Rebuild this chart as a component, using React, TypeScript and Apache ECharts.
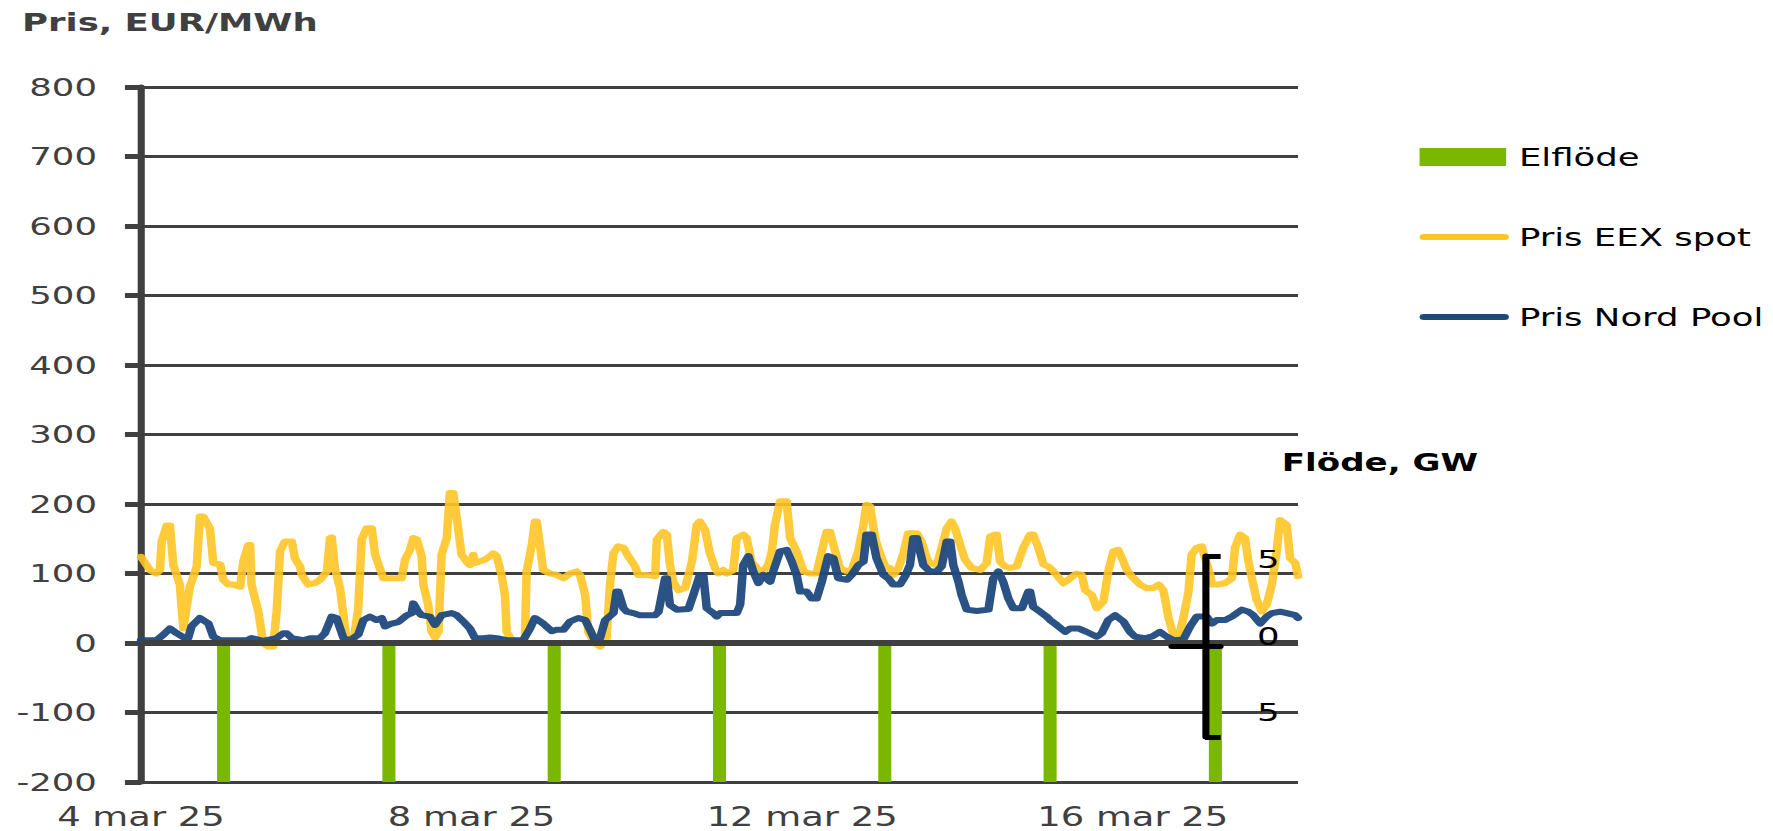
import React, { useEffect, useRef } from 'react';
import * as echarts from 'echarts';

// Chart is drawn at a narrower width and stretched horizontally, as in the reference.
const W = 1249;
const H = 831;
const SX = 1773 / W;

// x axis: hours since 4 mar 25 00:00
const xTickHours = [0, 96, 192, 288];
const xTickLabels = ['4 mar 25', '8 mar 25', '12 mar 25', '16 mar 25'];

// Elflöde, GW (bars run past the bottom of the plot)
const flowHours = [24, 72, 120, 168, 216, 264, 312];
const flowValues = [-8, -8, -8, -8, -8, -8, -8];

// Pris EEX spot, EUR/MWh
const eexHours = [
  0, 2.6, 4.5, 5.5, 6, 7.5, 8.4, 9.4, 11.3, 12.3, 14.2, 16.2, 17.1, 18.1, 20, 21, 23, 23.9, 25.4, 26.8,
  28.8, 29.7, 31.2, 31.7, 32.1, 34.1, 35.5, 37, 38.4, 39.4, 40.4, 41.8, 43.8, 44.7, 46.2, 46.7, 48.6, 50.5,
  52, 54, 54.9, 55.4, 56.3, 57.8, 59.7, 61.7, 63.1, 64.1, 65.5, 67, 68, 70.4, 72.3, 75.7, 76.7, 78.1, 79.1,
  80.1, 81.5, 82, 83.4, 84.4, 85.4, 86.4, 87.3, 88.8, 89.7, 90.7, 91.7, 93.1, 94.6, 95.6, 96.5, 97, 99.9,
  101.4, 102.3, 103.3, 104.7, 105.7, 106.2, 107.6, 110, 111.5, 112, 113.5, 114.4, 114.9, 115.9, 116.8,
  118.8, 120.7, 122.7, 124.6, 126.5, 127.5, 129, 129.9, 131.4,
  133.3, 135.2, 136.2, 137.2, 138.6, 140.1, 141.5, 143.5, 144.4, 146.9, 149.3, 149.8, 151.7, 152.7, 153.6,
  154.6, 156.1, 158, 160, 161.4, 162.3, 163.8, 165.2, 166.7, 167.7, 169.1, 170.1, 172, 173, 174.9, 175.9,
  177.3, 179.3, 180.7, 182.2, 183.2, 184.1, 185.6, 187.5, 188.5, 190.4, 192.4, 194.3, 196.2, 197.7, 199.1,
  200.1, 201.1, 203, 205, 206.4, 208.3, 209.8, 210.7, 211.7, 213.2, 214.6, 216.1, 217.5, 218.5, 220, 221.4,
  222.8, 225.3, 226.7, 228.2, 229.1, 231.1, 232.5, 234, 235.4, 236.4, 237.9, 239.3, 241.2, 243.7, 245.6,
  246.6, 248, 248.5, 249.5, 250.9, 252.4, 254.3, 256.2, 258.2, 259.1, 260.6, 262.1, 263.5,
  265, 267.9, 269.8, 271.7, 273.2, 274.2, 276.1, 277.6, 279.5, 280.9, 282.4, 283.8, 285.3, 286.3, 287.7,
  290.1, 292.1, 294, 295.5, 296.9, 298.4, 299.8, 301.3, 302.7, 304.2, 305.1, 306.6, 308, 309, 310.5, 311,
  312.4, 314.8, 316.8, 317.7, 319.2, 320.6, 321.6, 322.6, 324, 325.5, 326.9, 328.4, 329.8, 330.8, 332.7,
  333.7, 335.2, 336,
];
const eexValues = [
  124, 105, 100, 105, 146, 169, 169, 112, 84, 21, 81, 110, 182, 182, 165, 115, 113, 91, 84, 84,
  81, 117, 141, 141, 84, 45, 0, -5, -5, 45, 132, 146, 146, 122, 110, 98, 84, 86,
  91, 103, 151, 152, 108, 79, 4, 2, 50, 149, 165, 165, 127, 93, 93, 93, 120, 134, 151,
  149, 125, 84, 55, 16, 8, 16, 127, 151, 216, 216, 180, 127, 117, 112, 127, 115, 120,
  125, 129, 125, 98, 69, 16, 4, 1, 7, 103, 141, 175, 175, 139, 105,
  100, 98, 93, 100, 103, 98, 69, 16, 2,
  -5, 7, 84, 129, 139, 137, 125, 110, 98, 98, 96, 149, 160, 156, 113,
  88, 76, 79, 117, 170, 175, 163, 129, 108, 100, 105, 100, 105, 151, 156, 151,
  117, 105, 103, 113, 132, 170, 204, 204, 151, 132, 103, 100, 100, 132, 160,
  160, 141, 108, 103, 105, 132, 170, 199, 197, 151, 129, 110, 108, 98, 108, 129,
  158, 158, 146, 122, 115, 112, 137, 165, 175, 165, 141, 120, 108, 105, 115,
  153, 156, 156, 117, 110, 108, 110, 137, 156, 156, 137, 113, 110,
  103, 86, 93, 100, 98, 76, 69, 50, 60, 103, 132, 134, 117, 105, 96,
  84, 79, 79, 84, 76, 36, 12, 7, 36, 74, 127, 137, 139, 122, 98, 84,
  84, 86, 93, 137, 156, 151, 117, 93, 62, 45, 55, 84, 132, 177, 170,
  122, 115, 96,
];

// Pris Nord Pool, EUR/MWh
const npHours = [
  0, 4.5, 6.5, 8.4, 10.4, 12.8, 13.7, 14.7, 17.1, 19.6, 21, 23, 30.7, 32.1, 35.5, 39.4, 41.3, 42.3, 43.8,
  47.1, 49.1, 52, 53.4, 55.4, 56.8, 58.8, 60.7, 63.1, 64.6, 66.5, 68.4, 69.9, 70.9, 72.8, 74.7, 77.2, 78.6,
  79.1, 80.5, 81.5, 83.9, 85.4, 87.3, 90.2, 91.7, 93.6, 95.5, 97, 99.4, 101.4, 103.3, 106.2, 111, 113,
  114.4, 116.8, 119.3, 120.7, 122.7, 124.6, 127, 129, 130.4, 131.8,
  133.3, 134.8, 137.2, 138.1, 138.6, 140.1, 141.1, 143, 144.9, 149.3, 150.3, 152.2, 152.7, 153.6, 155.6,
  159, 160.4, 162.3, 163.3, 164.3, 166.2, 167.2, 168.2, 173, 174, 174.9, 176.4, 177.8, 179.3, 180.7, 182.7,
  183.6, 185.6, 187.5, 189, 190.4, 191.4, 193.3, 194.8, 196.2, 197.7, 199.6, 201.1, 202.5, 205, 206.4,
  208.3, 209.8, 210.7, 212.2, 213.6, 215.6, 217, 218.5, 220.4, 221.9, 223.3, 224.3, 225.3, 227.2, 229.1,
  231.1, 232.5, 234, 235, 235.9, 237.4, 238.3, 239.8, 242.7, 246.1, 247.5, 249, 250.4, 251.9, 253.3,
  255.8, 257.7, 258.2, 259.1, 261.1, 263,
  264, 265.9, 268.4, 269.8, 272.2, 274.6, 277.6, 279, 280.9, 282.9, 285.3, 287.2, 288.7, 291.6, 293.5,
  295.9, 297.9, 299.8, 302.7, 304.7, 306.6, 309.5, 311, 312.4, 314.8, 316.8, 319.7, 321.6, 323, 325,
  326.9, 328.4, 330.8, 332.7, 335.2, 336,
];
const npValues = [
  4, 4, 12, 21, 14, 7, 7, 24, 36, 28, 9, 4, 4, 7, 3, 7, 14, 14, 7,
  4, 7, 7, 14, 38, 36, 7, 4, 12, 33, 38, 33, 36, 24, 28, 30, 40, 43,
  57, 45, 40, 38, 26, 40, 43, 40, 31, 21, 7, 7, 8, 7, 4, 4, 21,
  36, 28, 17, 19, 19, 31, 36, 33, 19, 4,
  7, 33, 43, 74, 74, 50, 45, 43, 40, 40, 45, 93, 93, 55, 48,
  49, 69, 98, 98, 50, 43, 38, 43, 43, 55, 112, 125, 103, 86, 98, 88,
  103, 132, 134, 117, 98, 74, 74, 64, 64, 88, 125, 122, 93, 91, 98,
  112, 117, 156, 156, 122, 98, 93, 84, 84, 96, 112, 151, 151, 112, 103,
  103, 110, 146, 146, 112, 88, 69, 48, 46, 48, 93, 103, 88, 64, 50,
  50, 74, 74, 52, 45, 38,
  33, 26, 16, 21, 21, 16, 9, 14, 33, 40, 31, 16, 9, 7, 9,
  16, 9, 4, 5, 24, 38, 38, 28, 33, 33, 38, 48, 45, 40, 28,
  38, 43, 45, 43, 40, 36,
];

const FONT = '"DejaVu Sans", Verdana, sans-serif';
const GREEN = '#7AB800';
const YELLOW = '#FFC526';
const BLUE = '#1F497D';
const GREY = '#404040';
const CAPSULE = 'path://M3,0 L60,0 A3,3 0 0 1 60,6 L3,6 A3,3 0 0 1 3,0 Z';

const pairs = (xs: number[], ys: number[]) => xs.map((x, i) => [x, ys[i]]);

export default function App() {
  const ref = useRef<HTMLDivElement>(null);

  useEffect(() => {
    if (!ref.current) return;
    document.body.style.overflow = 'hidden';
    const chart = echarts.init(ref.current, undefined, { renderer: 'svg' });
    const legendText = { fontSize: 25, color: '#000', lineHeight: 25, fontFamily: FONT, padding: [0, 0, 0, 4] };
    const option: any = {
      animation: false,
      textStyle: { fontFamily: FONT },
      grid: [
        { left: 99.3, right: W - 914.4, top: 87, bottom: H - 782 },
        { left: 825.6, right: W - 859.5, top: 556, bottom: H - 737 },
      ],
      xAxis: [
        {
          type: 'value', gridIndex: 0, min: 0, max: 336, interval: 96,
          axisLine: { show: false }, axisTick: { show: false }, splitLine: { show: false },
          axisLabel: {
            margin: 22, fontSize: 26, color: GREY, fontFamily: FONT,
            formatter: (v: number) => {
              const i = xTickHours.indexOf(v);
              return i >= 0 ? xTickLabels[i] : '';
            },
          },
        },
        {
          type: 'value', gridIndex: 1, min: 0, max: 1, z: 10,
          axisLine: { show: true, onZero: true, lineStyle: { color: '#000', width: 5 } },
          axisTick: { show: false }, axisLabel: { show: false }, splitLine: { show: false },
        },
      ],
      yAxis: [
        {
          type: 'value', gridIndex: 0, min: -200, max: 800, interval: 100,
          axisLine: { show: true, lineStyle: { color: GREY, width: 5 } },
          axisTick: { show: true, length: 11.3, lineStyle: { color: GREY, width: 5 } },
          axisLabel: { margin: 31, fontSize: 25, color: GREY, fontFamily: FONT },
          splitLine: { show: true, lineStyle: { color: GREY, width: 3 } },
        },
        { type: 'value', gridIndex: 0, min: -8, max: 32, show: false, splitLine: { show: false } },
        {
          type: 'value', gridIndex: 1, min: -5, max: 5, interval: 5, offset: -23.3, z: 10,
          axisLine: { show: true, lineStyle: { color: '#000', width: 5 } },
          axisTick: { show: true, inside: true, length: 11, lineStyle: { color: '#000', width: 5 } },
          axisLabel: {
            inside: true, margin: 36.6, fontSize: 25, color: '#000', fontFamily: FONT,
            formatter: (v: number) => {
              const t = String(Math.abs(v));
              if (v > 0) return `{top|${t}}`;
              if (v < 0) return `{low|${t}}`;
              return `{mid|${t}}`;
            },
            rich: {
              top: { fontSize: 25, color: '#000', fontFamily: FONT, padding: [6, 0, 0, 0] },
              mid: { fontSize: 25, color: '#000', fontFamily: FONT, padding: [0, 0, 20, 0] },
              low: { fontSize: 25, color: '#000', fontFamily: FONT, padding: [0, 0, 50, 0] },
            },
          },
          splitLine: { show: false },
        },
      ],
      legend: [
        {
          orient: 'vertical', left: 1000, top: 144.5, padding: 0,
          itemWidth: 61, itemHeight: 18, itemGap: 55,
          textStyle: legendText,
          data: [{ name: 'Elflöde', icon: 'rect' }],
        },
        {
          orient: 'vertical', left: 1000, top: 224.5, padding: 0,
          itemWidth: 63, itemHeight: 6, itemGap: 55,
          textStyle: { ...legendText, padding: [0, 0, 0, 2] },
          data: [
            { name: 'Pris EEX spot', icon: CAPSULE },
            { name: 'Pris Nord Pool', icon: CAPSULE },
          ],
        },
      ],
      graphic: [
        {
          type: 'text', x: 15.5, y: 22,
          style: {
            text: 'Pris, EUR/MWh', fill: GREY, font: `bold 25px ${FONT}`,
            verticalAlign: 'middle', textVerticalAlign: 'middle',
          },
        },
        {
          type: 'text', x: 903, y: 463,
          style: {
            text: 'Flöde, GW', fill: '#000', font: `bold 24px ${FONT}`,
            verticalAlign: 'middle', textVerticalAlign: 'middle',
          },
        },
      ],
      series: [
        {
          name: 'Elflöde', type: 'bar', xAxisIndex: 0, yAxisIndex: 1, barWidth: 9.2,
          itemStyle: { color: GREEN },
          data: pairs(flowHours, flowValues),
          markLine: {
            silent: true, symbol: 'none', label: { show: false },
            lineStyle: { color: GREY, width: 6, type: 'solid' },
            data: [{ yAxis: 0 }],
          },
        },
        {
          name: 'Pris EEX spot', type: 'line', xAxisIndex: 0, yAxisIndex: 0,
          symbol: 'none', showSymbol: false,
          itemStyle: { color: YELLOW },
          lineStyle: { color: YELLOW, width: 6, opacity: 0.9, join: 'round', cap: 'round' },
          data: pairs(eexHours, eexValues),
        },
        {
          name: 'Pris Nord Pool', type: 'line', xAxisIndex: 0, yAxisIndex: 0,
          symbol: 'none', showSymbol: false,
          itemStyle: { color: BLUE },
          lineStyle: { color: BLUE, width: 6, opacity: 0.95, join: 'round', cap: 'round' },
          data: pairs(npHours, npValues),
        },
      ],
    };
    chart.setOption(option);
    return () => chart.dispose();
  }, []);

  return (
    <div
      ref={ref}
      style={{
        position: 'absolute', left: 0, top: 0, width: W, height: H,
        transform: `scaleX(${SX})`, transformOrigin: '0 0', background: '#fff',
      }}
    />
  );
}
